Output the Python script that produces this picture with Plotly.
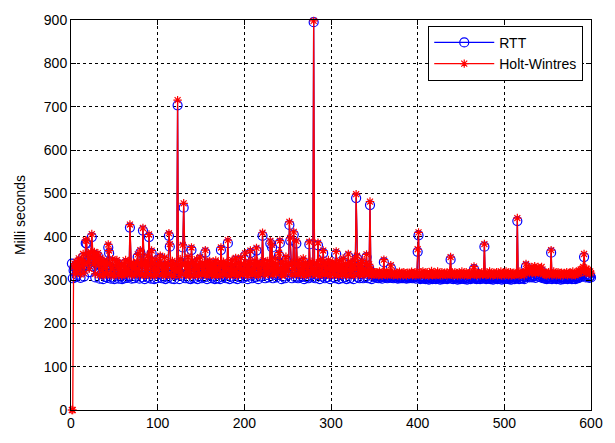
import plotly.graph_objects as go

# RTT samples (ms), sample index 1..600
rtt_001_100 = [338,304,322,330,306,335,312,326,342,320,
               305,338,326,352,308,331,385,384,333,355,
               318,345,356,399,342,331,358,306,350,336,
               355,326,303,344,332,316,302,338,326,307,
               334,305,375,362,330,303,318,341,306,302,
               326,336,339,318,303,331,308,324,302,312,
               330,304,339,318,305,336,309,421,326,303,
               318,332,304,326,308,334,353,318,303,363,
               330,306,414,326,302,336,314,348,305,399,
               326,303,362,332,316,302,340,318,304,328]
rtt_101_200 = [314,333,350,326,304,330,308,344,302,318,
               332,305,402,377,326,303,336,316,302,330,
               312,328,703,318,302,340,310,330,375,467,
               326,304,332,316,346,303,328,302,369,334,
               316,304,330,318,340,302,326,308,347,328,
               304,332,316,306,363,326,302,334,312,338,
               318,304,330,308,328,302,337,316,304,331,
               318,302,369,328,306,334,312,326,304,332,
               385,318,302,330,308,338,316,304,328,345,
               316,302,333,326,306,344,318,304,330,314]
rtt_201_300 = [356,308,328,302,334,316,362,310,304,330,
               316,337,306,368,326,302,332,318,308,328,
               402,339,318,304,330,312,336,306,327,384,
               318,375,304,332,312,342,306,327,312,357,
               385,318,302,334,308,328,304,346,318,330,
               312,427,391,326,304,332,405,318,306,384,
               330,304,337,314,306,328,308,342,302,326,
               332,306,316,304,382,327,312,334,306,895,
               318,304,330,312,380,326,302,339,314,308,
               362,326,304,332,314,306,338,318,302,330]
rtt_301_400 = [314,334,306,326,304,360,316,330,302,336,
               312,327,304,342,318,306,330,302,326,354,
               316,304,334,314,328,302,340,318,489,350,
               306,330,304,326,314,337,304,318,306,330,
               353,314,304,328,473,318,302,312,306,310,
               307,311,305,309,304,312,306,308,303,310,
               341,307,305,310,304,308,306,311,328,305,
               308,304,310,306,305,309,303,307,311,304,
               306,308,304,310,305,307,303,309,306,304,
               308,305,311,304,307,306,310,303,308,365]
rtt_401_500 = [403,305,302,307,304,309,303,306,302,305,
               308,303,301,306,304,310,302,305,303,307,
               302,305,309,303,306,301,304,308,302,305,
               307,303,306,302,305,304,309,347,303,306,
               302,305,308,303,306,301,304,307,302,305,
               309,303,306,302,304,308,301,305,303,307,
               302,306,304,309,325,303,305,302,307,304,
               306,302,305,308,303,306,377,304,302,307,
               303,305,309,302,306,304,301,307,303,305,
               308,302,306,304,303,309,301,305,307,302]
rtt_501_600 = [305,309,303,306,302,304,308,301,306,303,
               307,302,305,304,436,306,302,309,303,305,
               304,308,302,306,331,312,308,315,306,310,
               318,306,312,309,322,305,314,310,318,307,
               312,306,320,308,304,309,303,306,302,305,
               308,303,306,363,302,305,309,304,306,302,
               305,308,303,306,301,307,304,302,306,305,
               303,308,302,305,307,304,306,302,309,303,
               306,302,305,308,304,310,306,312,308,314,
               318,353,310,306,314,308,312,305,309,306]

# Holt-Wintres forecast (ms), sample index 1..600
hw_001_100 = [0,0,330,338,314,342,320,334,350,328,
              313,346,334,360,316,338,392,390,341,362,
              326,352,364,406,350,338,365,314,357,344,
              362,334,311,351,340,324,310,345,334,315,
              342,313,382,368,338,311,326,348,314,310,
              334,344,346,326,311,338,316,332,310,320,
              338,312,346,326,313,344,317,428,334,311,
              326,340,312,334,316,342,359,326,311,369,
              338,314,420,334,310,344,322,356,313,405,
              334,311,368,340,324,310,348,326,312,336]
hw_101_200 = [322,341,356,334,312,338,316,352,310,326,
              340,313,408,383,334,311,344,324,310,338,
              320,336,715,326,310,348,318,338,381,477,
              334,312,340,324,354,311,336,310,375,342,
              324,312,338,326,348,310,334,316,353,336,
              312,340,324,314,369,334,310,342,320,344,
              326,312,338,316,336,310,345,324,312,339,
              326,310,375,336,314,342,320,334,312,340,
              392,326,310,338,316,346,324,312,336,351,
              324,310,341,334,314,352,326,312,338,322]
hw_201_300 = [362,316,336,310,342,324,368,318,312,338,
              324,345,314,374,334,310,340,326,316,336,
              409,345,326,312,338,320,344,314,335,390,
              326,381,312,340,320,350,314,335,320,363,
              391,326,310,342,316,336,312,354,326,338,
              320,434,397,334,312,340,411,326,314,390,
              338,312,345,322,314,336,316,350,310,334,
              340,314,324,312,388,335,320,342,314,898,
              326,312,338,320,386,334,310,347,322,316,
              368,334,312,340,322,314,346,326,310,338]
hw_301_400 = [322,342,314,334,312,366,324,338,310,344,
              320,335,312,350,326,314,338,310,334,360,
              324,312,342,322,336,310,348,326,498,356,
              314,338,312,334,322,345,312,326,314,338,
              359,322,312,336,481,326,310,320,314,318,
              314,318,312,317,311,320,313,316,310,318,
              347,315,312,318,311,316,313,319,334,312,
              316,311,318,314,312,317,310,315,319,311,
              314,316,311,318,313,315,310,317,314,312,
              316,313,319,311,315,314,318,310,316,371]
hw_401_500 = [410,315,311,318,313,320,312,316,311,315,
              318,312,310,316,313,321,311,315,312,317,
              311,315,320,312,316,310,314,318,311,315,
              317,312,316,311,315,313,320,353,312,316,
              311,315,318,312,316,310,314,317,311,315,
              320,312,316,311,314,318,310,315,312,317,
              311,316,314,320,331,312,315,311,317,314,
              316,311,315,318,312,316,383,314,311,317,
              312,315,320,311,316,314,310,317,312,315,
              318,311,316,314,312,320,310,315,317,311]
hw_501_600 = [315,320,312,316,311,314,318,310,316,312,
              317,311,315,314,443,316,311,320,312,315,
              314,318,311,316,337,324,318,327,316,322,
              330,316,324,319,332,315,326,320,330,317,
              324,316,330,318,314,319,312,316,311,315,
              318,312,316,369,311,315,320,314,316,311,
              315,318,312,316,310,317,314,311,316,315,
              312,318,311,315,317,314,316,311,320,312,
              316,311,315,318,314,322,316,324,318,326,
              330,360,322,316,326,318,324,315,320,316]

rtt = rtt_001_100 + rtt_101_200 + rtt_201_300 + rtt_301_400 + rtt_401_500 + rtt_501_600
hw = hw_001_100 + hw_101_200 + hw_201_300 + hw_301_400 + hw_401_500 + hw_501_600
x_rtt = list(range(1, len(rtt) + 1))
x_hw = list(range(1, len(hw) + 1))

x_ticks = [0, 100, 200, 300, 400, 500, 600]
y_ticks = [0, 100, 200, 300, 400, 500, 600, 700, 800, 900]
series_names = ["RTT", "Holt-Wintres"]
FONT = "Liberation Sans, Arial, sans-serif"

fig = go.Figure()
fig.add_trace(go.Scatter(
    x=x_rtt, y=rtt, name=series_names[0], mode="lines+markers",
    line=dict(color="#0000ff", width=1.3),
    marker=dict(symbol="circle-open", size=9, color="#0000ff", line=dict(width=1.2, color="#0000ff")),
    cliponaxis=False,
))
fig.add_trace(go.Scatter(
    x=x_hw, y=hw, name=series_names[1], mode="lines+markers",
    line=dict(color="#ff0000", width=1.3),
    marker=dict(symbol="asterisk-open", size=7, color="#ff0000", line=dict(width=1.2, color="#ff0000")),
    cliponaxis=False,
))

axis_common = dict(
    showgrid=True, gridcolor="#000000", griddash="dot", gridwidth=1,
    showline=True, linecolor="#000000", linewidth=1, mirror="ticks",
    ticks="inside", ticklen=5, tickcolor="#000000",
    zeroline=False,
    tickfont=dict(family=FONT, size=14, color="#000000"),
)

fig.update_xaxes(range=[0, 600], tickvals=x_ticks, **axis_common)
fig.update_yaxes(range=[0, 900], tickvals=y_ticks,
                 title=dict(text="Milli seconds", standoff=14,
                            font=dict(family=FONT, size=14, color="#000000")),
                 **axis_common)

fig.update_layout(
    width=615, height=443, autosize=False,
    margin=dict(l=71, r=23, t=14, b=24),
    paper_bgcolor="#ffffff", plot_bgcolor="#ffffff",
    showlegend=True,
    legend=dict(
        x=0.687, y=0.985, xanchor="left", yanchor="top",
        bgcolor="#ffffff", bordercolor="#000000", borderwidth=1,
        font=dict(family=FONT, size=14, color="#000000"),
        itemwidth=60,
    ),
)

fig.write_html("out.html")
